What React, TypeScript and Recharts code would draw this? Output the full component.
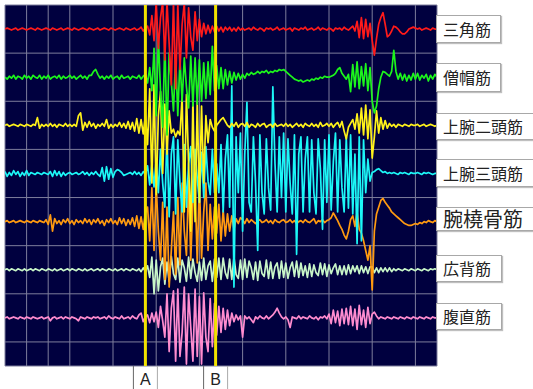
import { LineChart, Line, XAxis, YAxis, CartesianGrid, ReferenceLine } from "recharts"

// EMG channels, top to bottom
const muscles = ["三角筋", "僧帽筋", "上腕二頭筋", "上腕三頭筋", "腕橈骨筋", "広背筋", "腹直筋"]
const markers = [{ name: "A", t: 130 }, { name: "B", t: 195 }]

// samples every 2 time units, deviation from each channel's baseline (50 = one grid row)
const deltoid = [
  0, 1, 0, -1, 0, 1, -1, 0, 1, 0,
  -1, 0, 1, 0, -1, 1, 0, -1, 0, 1,
  0, -1, 1, 0, -1, 0, 1, -1, 0, 1,
  0, -1, 1, 0, -1, 0, 1, 0, -1, 1,
  0, -1, 0, 1, -1, 0, 1, 0, -1, 1,
  0, -1, 0, 1, 0, -1, 1, 0, -1, 0,
  1, -1, 0, 2, -2, 1, 3, -6, 14, -12,
  28, -20, 12, 28, -32, 28, -15, -58, 28, -62,
  26, -42, 5, 27, -30, 22, -8, -22, 18, -12,
  10, -8, 6, -5, 4, -4, 3, -3, 3, -2,
  2, -3, 2, -1, 2, -2, 1, -2, 2, -1,
  1, -1, 0, 1, -1, 2, 0, -1, 1, 0,
  -2, 1, 0, 1, -1, 0, 2, -1, 0, 1,
  -1, 0, 1, -2, 1, 0, -1, 1, 0, 2,
  -1, 0, 1, -1, 0, 2, -1, 1, 0, -1,
  1, 0, -2, 1, 0, 1, -1, 2, 0, -1,
  1, 3, -2, 8, -9, 12, -10, 10, -8, 6,
  -12, -27, -10, 5, 12, 17, 5, -8, -6, -2,
  3, 2, 0, -3, -5, -5, -3, 0, 1, 2,
  1, 0, 1, -1, 0, 1, 0, -1, 1, 0,
  0,
]

const trapezius = [
  0, -2, 1, -1, 2, -2, 1, 0, -2, 2,
  -1, 1, -2, 2, 0, -1, 2, -2, 1, -1,
  2, -2, 0, 1, -1, 2, -2, 1, -1, 0,
  2, -1, 1, -2, 0, 2, -1, 1, -2, 2,
  2, 6, 8, 3, -1, 1, -2, 1, -1, 2,
  -2, 0, 1, -2, 2, -1, 0, 1, -2, 1,
  0, -1, 2, -2, 1, 3, -6, 10, -14, 30,
  -40, 42, -15, -52, 38, -60, 25, -5, -35, 22,
  -40, 18, -25, 20, -10, -32, 22, -30, 20, -28,
  18, -25, 15, -22, 16, -18, 32, -14, 12, -12,
  10, -12, 8, -8, 6, -6, 5, -3, 4, -2,
  3, -1, 4, 2, 5, 3, 4, 6, 4, 6,
  5, 7, 4, 6, 5, 7, 6, 8, 7, 8,
  6, 4, 2, 0, -2, -3, -4, -3, -5, -4,
  -3, -4, -2, -3, -1, -2, 0, -1, 1, 0,
  0, 1, 2, 4, 8, 10, 4, 1, -2, 3,
  -15, 13, -10, 16, -12, 11, -9, 14, -14, 10,
  -25, -37, -30, -12, 0, 6, 5, 3, 1, 6,
  28, 6, -2, 4, -3, 3, -4, 2, -3, 4,
  -2, 4, -3, 2, -1, 3, -4, 2, -2, 3,
  0,
]

const biceps = [
  0, 1, -1, 0, 1, 0, -1, 1, 0, -1,
  1, 0, -1, 1, 0, 8, -3, 1, -1, 1,
  -1, 2, -1, 1, -2, 1, 0, -1, 2, -1,
  1, -1, 1, -1, 10, 13, -5, 3, -2, 4,
  -1, 2, -3, 1, -1, 2, -1, 6, -3, 1,
  -2, 1, -1, 3, -2, 2, -3, 4, -4, 3,
  -6, 7, -8, 6, -9, 10, -20, 38, -60, 42,
  -72, 10, 35, -50, 22, -30, 15, -8, -4, -12,
  -6, -10, 30, -90, 32, -40, -110, 28, -100, 25,
  -80, 20, -60, 10, -18, 6, -2, -6, 0, 3,
  6, 8, 4, 0, -2, 2, -1, 3, -2, 1,
  2, -1, 3, -2, 1, 0, -2, 2, -1, 1,
  2, -2, 0, 1, -2, 2, -1, 0, 1, -1,
  2, -1, 1, -2, 0, 2, -1, 1, -2, 2,
  0, -1, 2, -1, 1, -2, 3, -1, 0, 2,
  -1, 2, -2, 1, 3, -2, 4, -6, -14, -2,
  2, 6, -4, 12, -8, 18, -10, 21, -14, 16,
  -34, -12, 15, -8, 8, -4, 5, -3, 2, -1,
  1, -2, 1, 0, -1, 1, 0, -1, 1, 0,
  0, 1, -1, 0, 1, -1, 0, 1, 0, -1,
  0,
]

const triceps = [
  2, -3, 1, -2, 3, -1, 2, -3, 1, -2,
  3, -2, 1, 0, -1, 1, 0, -1, 1, 0,
  -1, 2, -3, 3, -2, 2, -3, 1, -2, 0,
  1, -1, 0, 1, -1, 0, 2, -1, 1, -2,
  1, -1, 2, -1, -3, 6, -8, 7, -6, 5,
  -4, 2, 4, 3, 1, -2, -1, 0, 1, -1,
  2, -1, 1, -2, 2, -1, 8, -12, 10, -14,
  15, -20, 25, -10, -35, 40, -45, 20, 38, -42,
  35, -10, -40, 30, -35, 10, 28, -30, 25, -5,
  -30, 22, -25, 28, -8, -22, 25, -20, 10, -20,
  30, -40, 15, 40, -35, 91, -118, 38, -20, 42,
  -60, 20, 74, -30, -40, 38, -10, -80, 40, -20,
  -42, 36, -15, -38, 90, 10, -40, 38, -25, 42,
  -40, 36, -10, -42, 40, -84, 20, 38, -40, 15,
  38, -40, 35, -20, -42, 36, 5, -58, 35, -30,
  40, -38, 12, 42, -40, 35, -15, -40, 38, -36,
  40, -42, 20, -73, 38, -70, 35, -20, 15, -8,
  1, 2, 4, 5, 3, 1, 2, 0, 1, 0,
  1, 0, -1, 1, 0, 1, 0, -1, 1, 0,
  0, 1, 0, -1, 1, 0, 1, 0, -1, 0,
  0,
]

const brachioradialis = [
  0, 1, -1, 0, 1, -1, 0, 1, 0, -1,
  1, 0, -1, 1, 0, -1, 1, 0, -1, 2,
  -3, 7, -10, 3, -2, 1, -3, 2, -1, 3,
  -2, 1, -3, 2, -1, 1, -2, 3, -1, 2,
  -3, 2, -1, 3, -2, 1, -4, 2, -1, 3,
  -2, 1, -3, 4, -2, 3, -4, 2, -3, 4,
  -5, 6, -7, 5, -8, 9, 15, -20, 35, -30,
  37, -10, -40, 20, -60, 15, -68, -30, 10, -55,
  25, -45, 40, -10, -35, 42, -40, 20, 38, -43,
  42, -38, 10, 40, -30, 18, -18, 15, -12, 18,
  -20, 12, -15, 8, -10, 6, -8, 3, -2, 4,
  2, -2, 3, -1, 2, 0, -2, 1, 2, -1,
  0, 2, -1, 1, -2, 2, 0, -1, 1, 2,
  -1, 0, 2, -1, 1, -2, 0, 1, -1, 2,
  0, -1, 1, 3, -2, 1, 0, 2, -1, 1,
  2, 4, 9, 5, 1, -4, -8, -14, -18, -10,
  2, 6, -5, 10, -8, -12, -20, -30, -40, -25,
  -71, -10, 8, 15, 22, 24, 20, 17, 14, 10,
  8, 6, 4, 2, 0, -2, -3, -4, -4, -3,
  -2, -3, -1, -2, 0, -1, 1, 0, -1, 1,
  0,
]

const latissimus = [
  0, 1, -1, 1, 0, -1, 1, 0, -1, 1,
  -1, 0, 1, -1, 1, 0, -1, 1, 0, -1,
  1, 0, -1, 1, -1, 0, 1, -1, 0, 1,
  -1, 1, 0, -1, 1, 0, -1, 1, -1, 0,
  1, -1, 0, 1, -1, 1, 0, -1, 1, 0,
  -1, 1, -1, 0, 1, -1, 1, 0, -1, 1,
  0, -1, 1, -2, 2, -2, 4, -8, 13, -25,
  10, -22, 3, 12, -15, 8, -12, 14, -4, -10,
  12, -13, 10, 2, -12, 13, -9, 11, -3, -12,
  8, -11, 12, -10, 4, 9, -12, 11, -8, 12,
  -10, 12, -3, -9, 11, -10, 13, -5, -9, 10,
  -10, 11, -8, 9, 2, -10, 8, -11, 9, -4,
  -7, 10, -9, 8, -9, 3, 7, -9, 9, -8,
  7, -9, 2, 8, -7, 9, -8, 7, -6, 4,
  -8, 6, -7, 5, -3, -6, 7, -5, 6, -7,
  5, -4, 2, 6, -5, 4, -5, 4, -5, 5,
  -4, 4, -2, 4, -4, 4, -3, 3, -4, 3,
  3, -3, 2, -3, 2, -2, 2, -2, 2, -2,
  1, -1, 1, 0, -1, 1, 0, -1, 1, 0,
  -1, 1, 0, -1, 1, 0, -1, 1, 0, 1,
  0,
]

const rectus = [
  0, 1, -1, 0, 1, 0, -1, 1, 0, -1,
  1, 0, -1, 1, 0, -1, 0, 1, -1, 0,
  1, -3, 0, 1, -1, 0, 1, -1, 1, 0,
  -1, 1, 0, -1, -3, 1, 0, -1, 1, 0,
  -1, 1, 0, 1, -1, 0, 1, -1, 2, 0,
  -1, 1, 0, -1, 2, -1, 0, 1, -1, 2,
  0, -1, 3, 5, -4, 1, 3, -5, 5, -4,
  6, -10, 12, -3, -20, 25, -35, 10, 28, -45,
  30, -40, -15, 32, -48, 25, -10, -45, 30, -40,
  22, -48, 26, -20, -35, 20, -30, 15, -18, 12,
  -15, 10, -12, 8, -8, 5, -4, 3, -2, 2,
  -20, 2, -1, 1, -2, -5, 1, -1, 2, 0,
  -1, 2, -1, 1, 3, 6, 10, 5, 1, -1,
  1, -2, -10, 1, 0, -1, 2, -1, 1, 0,
  -1, 2, 0, -1, 1, -2, 1, 0, 2, -1,
  4, -6, 8, -5, 7, -8, 9, -6, 10, -7,
  12, -8, 9, -12, 13, -7, 8, -10, 11, -6,
  4, 6, 2, -1, 1, 0, -1, 1, 0, -1,
  1, 0, -1, 1, 0, -1, 1, 0, -1, 1,
  0, -1, 1, 0, -1, 1, 0, -1, 1, 0,
  0,
]

const channels = [deltoid, trapezius, biceps, triceps, brachioradialis, latissimus, rectus]
const colors = ["#ff1a1a", "#1cf51c", "#fff21a", "#1cf7f7", "#ff9a10", "#c8f5c8", "#ff8ccf"]

const STEP = 2
const ROW = 50
const Y_MAX = 375
const X_MAX = 400

const data = deltoid.map((_, i) => {
  const row: Record<string, number> = { t: i * STEP }
  channels.forEach((ch, k) => {
    row[`ch${k}`] = Y_MAX - ROW / 2 - k * ROW + ch[i]
  })
  return row
})

const xTicks = Array.from({ length: 19 }, (_, i) => (i + 1) * 20)
const yTicks = Array.from({ length: 7 }, (_, i) => ROW / 2 + i * ROW)

// label boxes on the right
const labelBoxes = [
  { top: 15, height: 28, width: 65, size: 16 },
  { top: 63, height: 29, width: 65, size: 16 },
  { top: 113, height: 27, width: 100, size: 16 },
  { top: 159, height: 28, width: 100, size: 16 },
  { top: 207, height: 24, width: 100, size: 20 },
  { top: 255, height: 27, width: 66, size: 16 },
  { top: 303, height: 27, width: 66, size: 16 },
]

const MarkerLabel = ({ viewBox, text }: any) => {
  const { x, y, height } = viewBox
  const bottom = y + height
  return (
    <g>
      <line x1={x - 12} x2={x - 12} y1={bottom} y2={bottom + 24} stroke="#666" strokeWidth={1} />
      <line x1={x + 12} x2={x + 12} y1={bottom} y2={bottom + 24} stroke="#aaa" strokeWidth={1} />
      <text x={x} y={bottom + 19} textAnchor="middle" fontSize={16} fill="#222" fontFamily="Liberation Sans, Arial, sans-serif">
        {text}
      </text>
    </g>
  )
}

export default function App() {
  return (
    <div style={{ position: "absolute", left: 0, top: 0, width: 533, height: 389, background: "#fff", overflow: "hidden" }}>
      <LineChart width={533} height={389} data={data} margin={{ top: 5, right: 96, bottom: 23, left: 5 }}>
        <CartesianGrid fill="#00003f" stroke="#7d7d9c" strokeWidth={1} />
        <XAxis dataKey="t" type="number" domain={[0, X_MAX]} ticks={xTicks} hide allowDataOverflow />
        <YAxis type="number" domain={[0, Y_MAX]} ticks={yTicks} hide width={0} allowDataOverflow />
        {channels.map((_, k) => channels.length - 1 - k).map((k) => (
          <Line
            key={k}
            dataKey={`ch${k}`}
            stroke={colors[k]}
            strokeWidth={1.7}
            strokeLinejoin="round"
            dot={false}
            type="linear"
            isAnimationActive={false}
          />
        ))}
        {markers.map((m) => (
          <ReferenceLine
            key={m.name}
            x={m.t}
            stroke="#f2e200"
            strokeWidth={3}
            label={<MarkerLabel text={m.name} />}
          />
        ))}
      </LineChart>
      {muscles.map((name, k) => {
        const b = labelBoxes[k]
        return (
          <div
            key={name}
            style={{
              position: "absolute",
              left: 436,
              top: b.top,
              width: b.width,
              height: b.height,
              boxSizing: "border-box",
              border: "1px solid #a8a8a8",
              boxShadow: "1px 1px 1px rgba(0,0,0,0.25)",
              background: "#fff",
              paddingLeft: 6,
              fontFamily: "'Noto Sans CJK JP', sans-serif",
              fontSize: b.size,
              lineHeight: `${b.height - 2}px`,
              color: "#222",
              whiteSpace: "nowrap",
            }}
          >
            {name}
          </div>
        )
      })}
    </div>
  )
}
